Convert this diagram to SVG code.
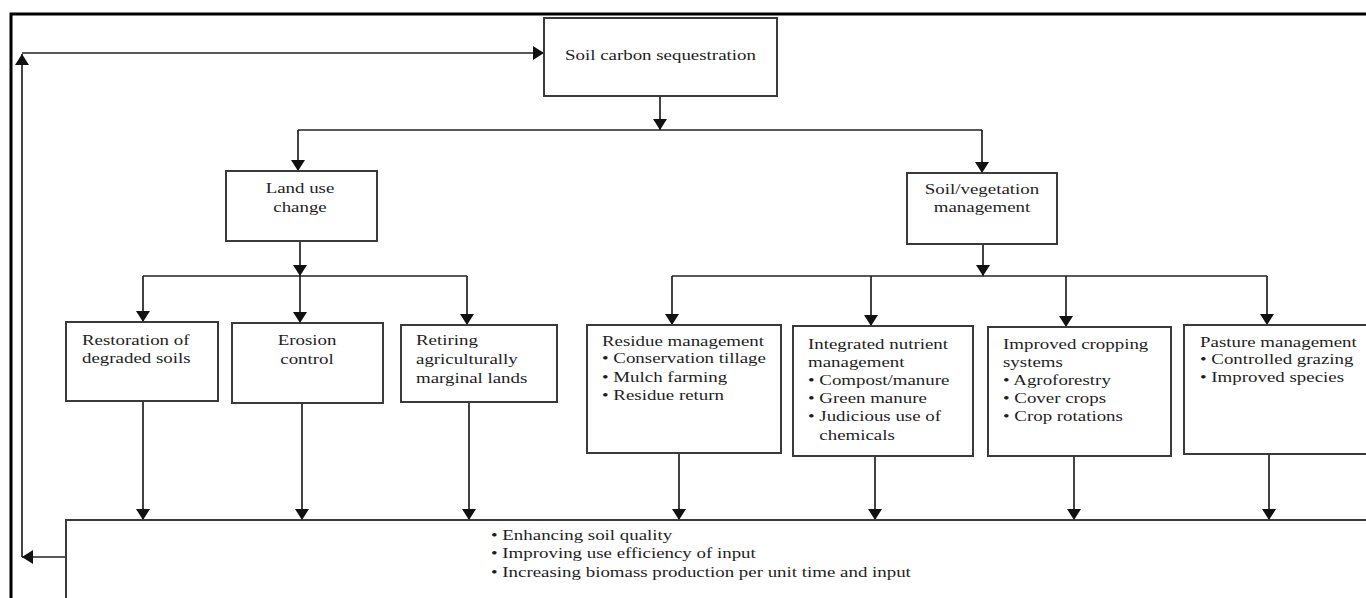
<svg xmlns="http://www.w3.org/2000/svg" width="1366" height="598" viewBox="0 0 1366 598">
<style>
.bx{fill:#fff;stroke:#3a3a3a;stroke-width:2}
.t{font-family:"Liberation Serif","Times New Roman",serif;font-size:15px;fill:#1e1e1e}
.c{fill:none;stroke:#222;stroke-width:1.7}
</style>
<defs>
<marker id="ah" markerUnits="userSpaceOnUse" viewBox="0 0 11 14" refX="11" refY="7" markerWidth="11" markerHeight="14" orient="auto">
<path d="M0,0 L11,7 L0,14 Z" fill="#111"/>
</marker>
</defs>
<rect x="0" y="0" width="1366" height="598" fill="#fff"/>
<rect id="frame" x="11" y="14" width="1400" height="700" fill="none" stroke="#000" stroke-width="3"/>

<g id="connectors">
<path class="c" d="M660,96 V130" marker-end="url(#ah)"/>
<path class="c" d="M298,130 H982"/>
<path class="c" d="M298,130 V171" marker-end="url(#ah)"/>
<path class="c" d="M982,130 V173" marker-end="url(#ah)"/>
<path class="c" d="M300,241 V276" marker-end="url(#ah)"/>
<path class="c" d="M143,276 H467"/>
<path class="c" d="M143,276 V322" marker-end="url(#ah)"/>
<path class="c" d="M300,276 V323" stroke-width="2.8" marker-end="url(#ah)"/>
<path class="c" d="M467,276 V325" marker-end="url(#ah)"/>
<path class="c" d="M983,244 V276" marker-end="url(#ah)"/>
<path class="c" d="M672,276 H1267"/>
<path class="c" d="M672,276 V325" marker-end="url(#ah)"/>
<path class="c" d="M871,276 V326" marker-end="url(#ah)"/>
<path class="c" d="M1066,276 V327" marker-end="url(#ah)"/>
<path class="c" d="M1267,276 V325" marker-end="url(#ah)"/>
<path class="c" d="M143,401 V520" marker-end="url(#ah)"/>
<path class="c" d="M302,403 V520" marker-end="url(#ah)"/>
<path class="c" d="M469,402 V520" stroke-width="1" marker-end="url(#ah)"/>
<path class="c" d="M679,453 V520" marker-end="url(#ah)"/>
<path class="c" d="M875,456 V520" marker-end="url(#ah)"/>
<path class="c" d="M1074,456 V520" marker-end="url(#ah)"/>
<path class="c" d="M1269,454 V520" marker-end="url(#ah)"/>
<path class="c" d="M66,557 H22" marker-end="url(#ah)"/>
<path class="c" d="M22,557 V54" marker-end="url(#ah)"/>
<path class="c" d="M22,53 H544" marker-end="url(#ah)"/>
</g>

<g id="n-top">
<rect class="bx" x="544" y="18" width="233" height="78" stroke="#555"/>
<text class="t" transform="translate(565,60) scale(1.26,1)">Soil carbon sequestration</text>
</g>

<g id="n-landuse">
<rect class="bx" x="226" y="171" width="151" height="70"/>
<text class="t" text-anchor="middle" transform="translate(300,193) scale(1.26,1)"><tspan x="0" y="0">Land use</tspan><tspan x="0" y="19">change</tspan></text>
</g>

<g id="n-soilveg">
<rect class="bx" x="907" y="173" width="150" height="71" stroke="#555"/>
<text class="t" text-anchor="middle" transform="translate(982,194) scale(1.26,1)"><tspan x="0" y="0">Soil/vegetation</tspan><tspan x="0" y="18">management</tspan></text>
</g>

<g id="n-restoration">
<rect class="bx" x="66" y="322" width="152" height="79" stroke="#666" stroke-width="1.6"/>
<text class="t" transform="translate(82,345) scale(1.26,1)"><tspan x="0" y="0">Restoration of</tspan><tspan x="0" y="18.5">degraded soils</tspan></text>
</g>

<g id="n-erosion">
<rect class="bx" x="232" y="323" width="151" height="80" stroke-width="2.4"/>
<text class="t" text-anchor="middle" transform="translate(307,345) scale(1.26,1)"><tspan x="0" y="0">Erosion</tspan><tspan x="0" y="19">control</tspan></text>
</g>

<g id="n-retiring">
<rect class="bx" x="401" y="325" width="156" height="77" stroke-width="2.2"/>
<text class="t" transform="translate(416,345) scale(1.26,1)"><tspan x="0" y="0">Retiring</tspan><tspan x="0" y="19">agriculturally</tspan><tspan x="0" y="38">marginal lands</tspan></text>
</g>

<g id="n-residue">
<rect class="bx" x="587" y="325" width="194" height="128" stroke-width="2.2"/>
<text class="t" transform="translate(602,346) scale(1.26,1)"><tspan x="0" y="0">Residue management</tspan><tspan x="0" y="17.5">• Conservation tillage</tspan><tspan x="0" y="36">• Mulch farming</tspan><tspan x="0" y="54.5">• Residue return</tspan></text>
</g>

<g id="n-integrated">
<rect class="bx" x="793" y="326" width="180" height="130" stroke-width="2.2"/>
<text class="t" transform="translate(808,349) scale(1.26,1)"><tspan x="0" y="0">Integrated nutrient</tspan><tspan x="0" y="18">management</tspan><tspan x="0" y="36">• Compost/manure</tspan><tspan x="0" y="54">• Green manure</tspan><tspan x="0" y="72">• Judicious use of</tspan><tspan x="9" y="91">chemicals</tspan></text>
</g>

<g id="n-improved">
<rect class="bx" x="988" y="327" width="183" height="129" stroke-width="2.2"/>
<text class="t" transform="translate(1003,349) scale(1.26,1)"><tspan x="0" y="0">Improved cropping</tspan><tspan x="0" y="18">systems</tspan><tspan x="0" y="36">• Agroforestry</tspan><tspan x="0" y="54">• Cover crops</tspan><tspan x="0" y="72">• Crop rotations</tspan></text>
</g>

<g id="n-pasture">
<rect class="bx" x="1184" y="325" width="200" height="129" stroke-width="2.2"/>
<text class="t" transform="translate(1200,347) scale(1.26,1)"><tspan x="0" y="0">Pasture management</tspan><tspan x="0" y="17.5">• Controlled grazing</tspan><tspan x="0" y="35.5">• Improved species</tspan></text>
</g>

<g id="n-outcome">
<rect class="bx" x="66" y="520" width="1400" height="200" stroke-width="2"/>
<text class="t" transform="translate(491,540) scale(1.26,1)"><tspan x="0" y="0">• Enhancing soil quality</tspan><tspan x="0" y="18.5">• Improving use efficiency of input</tspan><tspan x="0" y="37">• Increasing biomass production per unit time and input</tspan></text>
</g>
</svg>
